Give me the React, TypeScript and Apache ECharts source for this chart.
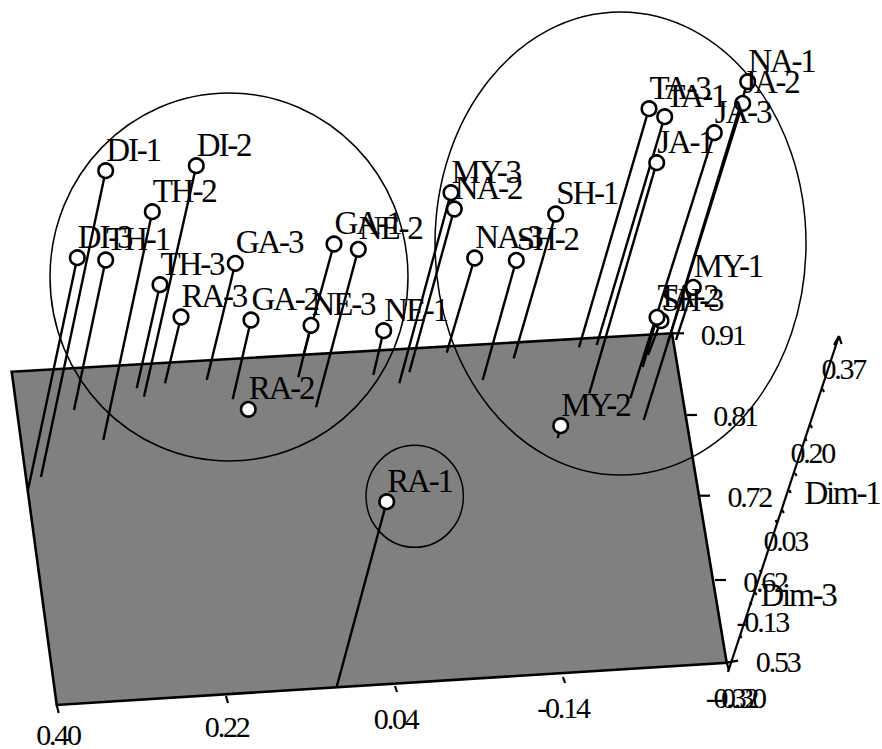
import React, { useEffect, useRef } from "react";
import * as echarts from "echarts";

// Projected screen-plane readings of the 3-D MDS plot
const pointNames = ["DI-1","DI-2","TH-2","DI-3","TH-1","TH-3","GA-3","RA-3","GA-2","RA-2","NE-3","GA-1","NE-2","NE-1","MY-3","NA-2","NA-3","SH-2","SH-1","TA-3","TA-1","JA-1","JA-3","NA-1","JA-2","MY-1","SH-3","TA-2","MY-2","RA-1"];
const pointX = [105.7,196.3,152.3,77.3,105.7,160,235.3,181,251,248.3,311,334,358.3,383.7,451,454.3,474.7,516.3,555.7,649,664.7,656.7,714.3,747.7,742.7,693.3,661,657,560.7,386.7];
const pointY = [170.7,165.7,211.7,257.7,260,284.7,263.3,317,320,409.3,325.3,244,249.3,330.7,192.7,209,258,260.3,214,108.7,116.7,162.7,132.7,81.7,103.3,287.3,320.7,317.3,425.7,501.7];
const dropX = [41,144,103.3,28,74,136.7,206.7,165,232.7,248.3,298.3,304,316,373.3,399.3,409.3,446.7,482.7,513.7,579,596.7,589.3,630.3,667.7,643.7,676,648,642.7,557.7,336.7];
const dropY = [477,396.7,440,490,410,388.3,380,383.3,399.3,409.3,377.3,353,407.3,375,383.3,372.3,352.7,380,358.3,347.3,345,393.3,398.3,343,420,340,355,367,438,686.7];

const planeX = [11.7,672,726.7,56.7];
const planeY = [371.7,333.3,662.7,705];

const ellipseCx = [229,620.5,414.7];
const ellipseCy = [277,243.5,496.3];
const ellipseRx = [179,185.5,48.7];
const ellipseRy = [184,231.5,51];

const axisTickLabels = ["0.40","0.22","0.04","-0.14","-0.32","0.91","0.81","0.72","0.62","0.53","0.37","0.20","0.03","-0.13","-0.30","Dim-1","Dim-3"];
const axisLabelX = [58,226.7,395.7,563,731.5,722.7,735,749.3,765,777.7,843.3,812.3,785.3,762.3,739,842,798];
const axisLabelY = [734,726.7,718.3,707,697.6,334,415,496,581,661.7,368.7,452.7,540,621.7,697.6,492.7,595];

// axis lines, ticks and arrow: x1, y1, x2, y2
const axisSegments = [
  [728,672,839,336],[839,336,834,345],[839,336,841.5,344],
  [56.7,705,58.7,713],[226,696,228,703],[395,686,397,692],[563,677,565,683],[726.7,662,729,671],
  [672,333.3,684,333.3],[687,415,697,415],[700,495.7,710,495.7],[715,580,726,580],[726.7,662.7,738,660.7],
  [822.5,389,824,392],[810.7,425,812,428],[805,438,806.5,441],[795,473,796.5,476],[789.3,490,790.8,493],[782.3,510,783.8,513],[775.7,520,777,523],[760,570,761.5,573],[755,592,756.5,595],[750,602,751.5,605],[740,635,741.5,638],
];

const X_MAX = 882;
const Y_MAX = 749;
const serif = '"Liberation Serif", "Times New Roman", serif';

export default function App() {
  const ref = useRef<HTMLDivElement>(null);
  useEffect(() => {
    document.body.style.margin = "0";
    const chart = echarts.init(ref.current!, undefined, { renderer: "svg" });
    const seq = (n: number) => Array.from({ length: n }, (_, i) => [i]);
    chart.setOption({
      animation: false,
      backgroundColor: "#ffffff",
      grid: { left: 0, right: 0, top: 0, bottom: 0, containLabel: false },
      xAxis: { type: "value", min: 0, max: X_MAX, show: false },
      yAxis: { type: "value", min: 0, max: Y_MAX, inverse: true, show: false },
      series: [
        {
          type: "custom", z: 1, silent: true, clip: false,
          encode: { x: 0 }, data: [[0]],
          renderItem: (_: any, api: any) => ({
            type: "polygon",
            shape: { points: planeX.map((x, i) => api.coord([x, planeY[i]])) },
            style: { fill: "#808080", stroke: "#000", lineWidth: 2.6 },
          }),
        },
        {
          type: "custom", z: 2, silent: true, clip: false,
          data: axisSegments,
          renderItem: (_: any, api: any) => {
            const a = api.coord([api.value(0), api.value(1)]);
            const b = api.coord([api.value(2), api.value(3)]);
            return { type: "line", shape: { x1: a[0], y1: a[1], x2: b[0], y2: b[1] }, style: { stroke: "#000", lineWidth: 2.2 } };
          },
        },
        {
          type: "custom", z: 3, silent: true, clip: false,
          data: seq(ellipseCx.length),
          renderItem: (_: any, api: any) => {
            const i = api.value(0);
            const c = api.coord([ellipseCx[i], ellipseCy[i]]);
            const s = api.size([ellipseRx[i], ellipseRy[i]]);
            return { type: "ellipse", shape: { cx: c[0], cy: c[1], rx: s[0], ry: s[1] }, style: { fill: "none", stroke: "#000", lineWidth: 1.5 } };
          },
        },
        {
          type: "custom", z: 4, silent: true, clip: false,
          data: seq(pointX.length),
          renderItem: (_: any, api: any) => {
            const i = api.value(0);
            const a = api.coord([pointX[i], pointY[i]]);
            const b = api.coord([dropX[i], dropY[i]]);
            return { type: "line", shape: { x1: a[0], y1: a[1], x2: b[0], y2: b[1] }, style: { stroke: "#000", lineWidth: 2.4 } };
          },
        },
        {
          type: "scatter", z: 5, silent: true, clip: false,
          symbol: "circle", symbolSize: 14.5,
          itemStyle: { color: "#fff", borderColor: "#000", borderWidth: 2.6, opacity: 1 },
          data: pointNames.map((name, i) => ({ name, value: [pointX[i], pointY[i]] })),
          label: {
            show: true, position: "right", distance: 0, offset: [-8, -21],
            formatter: "{b}", color: "#000", fontFamily: serif, fontSize: 33,
          },
        },
        {
          type: "custom", z: 6, silent: true, clip: false,
          data: seq(axisTickLabels.length),
          renderItem: (_: any, api: any) => {
            const i = api.value(0);
            const c = api.coord([axisLabelX[i], axisLabelY[i]]);
            return {
              type: "text", x: c[0], y: c[1],
              style: { text: axisTickLabels[i], fill: "#000", font: `${axisTickLabels[i].startsWith("Dim") ? 33 : 30}px ${serif}`, align: "center", verticalAlign: "middle" },
            };
          },
        },
      ],
    });
    return () => chart.dispose();
  }, []);
  return <div ref={ref} style={{ width: X_MAX, height: Y_MAX, letterSpacing: "-2.2px" }} />;
}
